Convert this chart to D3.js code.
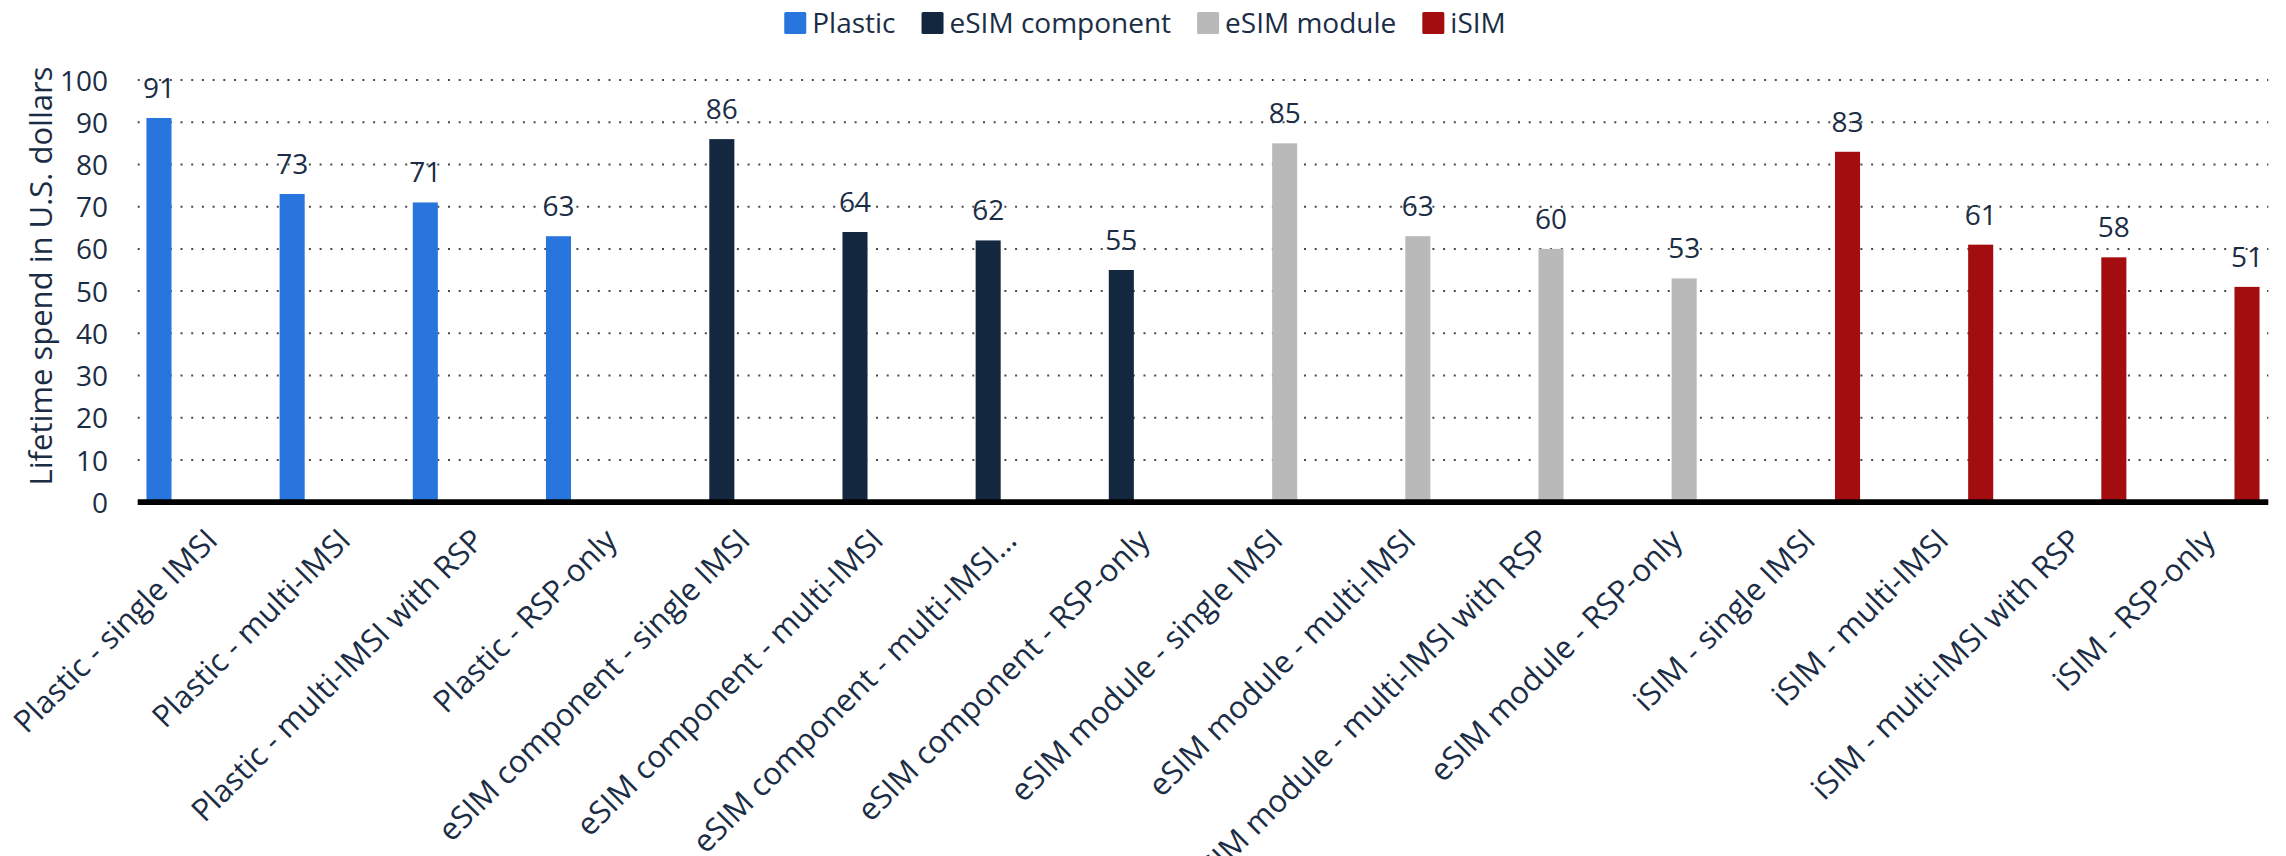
<!DOCTYPE html>
<html>
<head>
<meta charset="utf-8">
<script src="https://cdn.jsdelivr.net/npm/d3@7"></script>
<style>
  html, body { margin: 0; padding: 0; background: #fff; }
  svg { display: block; font-family: "Open Sans", "Noto Sans", sans-serif; }
</style>
</head>
<body>
<svg id="chart" width="2286" height="856"></svg>
<script>
// Categories along the x axis
const categories = [
  "Plastic - single IMSI", "Plastic - multi-IMSI", "Plastic - multi-IMSI with RSP", "Plastic - RSP-only",
  "eSIM component - single IMSI", "eSIM component - multi-IMSI", "eSIM component - multi-IMSI with RSP", "eSIM component - RSP-only",
  "eSIM module - single IMSI", "eSIM module - multi-IMSI", "eSIM module - multi-IMSI with RSP", "eSIM module - RSP-only",
  "iSIM - single IMSI", "iSIM - multi-IMSI", "iSIM - multi-IMSI with RSP", "iSIM - RSP-only"
];

// Series names and colours
const seriesNames = ["Plastic", "eSIM component", "eSIM module", "iSIM"];
const seriesColors = ["#2876dd", "#13283f", "#b9b9b9", "#a30d0f"];

// Lifetime spend in U.S. dollars per category (null where the series has no value)
const plasticValues   = [91, 73, 71, 63, null, null, null, null, null, null, null, null, null, null, null, null];
const eSimComponent   = [null, null, null, null, 86, 64, 62, 55, null, null, null, null, null, null, null, null];
const eSimModule      = [null, null, null, null, null, null, null, null, 85, 63, 60, 53, null, null, null, null];
const iSimValues      = [null, null, null, null, null, null, null, null, null, null, null, null, 83, 61, 58, 51];

// Y axis ticks
const yTicks = [0, 10, 20, 30, 40, 50, 60, 70, 80, 90, 100];

const seriesValues = [plasticValues, eSimComponent, eSimModule, iSimValues];
const textColor = "#1b2d45";
const fontSize = 28;
const labelFontSize = 31;

const svg = d3.select("#chart");
const plot = { left: 137.7, right: 2268.3, top: 80, bottom: 502.2 };

const x0 = d3.scaleBand().domain(categories).range([plot.left, plot.right]).padding(0);
const x1 = d3.scaleBand().domain(seriesNames).range([0, x0.bandwidth()])
  .paddingInner(0.17).paddingOuter(0.29);
const y = d3.scaleLinear().domain([0, 100]).range([plot.bottom, plot.top]);

// Dotted horizontal grid
svg.append("g")
  .selectAll("line")
  .data(yTicks.filter(d => d > 0))
  .join("line")
  .attr("x1", plot.left).attr("x2", plot.right)
  .attr("y1", d => y(d)).attr("y2", d => y(d))
  .attr("stroke", "#4a4a4a")
  .attr("stroke-width", 2)
  .attr("stroke-dasharray", "2,8.7");

// Y axis labels
const yAxis = d3.axisLeft(y).tickValues(yTicks).tickSize(0).tickPadding(29.7);
svg.append("g")
  .attr("transform", `translate(${plot.left},0)`)
  .call(yAxis)
  .call(g => g.select(".domain").remove())
  .call(g => g.selectAll("text")
    .attr("fill", textColor)
    .attr("font-size", fontSize)
    .attr("font-family", "'Open Sans', sans-serif")
    .attr("dy", "0.36em"));

// Y axis title
svg.append("text")
  .attr("transform", `translate(52,276) rotate(-90)`)
  .attr("text-anchor", "middle")
  .attr("fill", textColor)
  .attr("font-size", labelFontSize)
  .text("Lifetime spend in U.S. dollars");

// Flatten values into bar records
const bars = [];
seriesValues.forEach((vals, si) => {
  vals.forEach((v, ci) => {
    if (v !== null) bars.push({ category: categories[ci], series: seriesNames[si], value: v, color: seriesColors[si] });
  });
});

// Bars
svg.append("g")
  .selectAll("rect")
  .data(bars)
  .join("rect")
  .attr("x", d => x0(d.category) + x1(d.series))
  .attr("width", x1.bandwidth())
  .attr("y", d => y(d.value))
  .attr("height", d => y(0) - y(d.value))
  .attr("fill", d => d.color);

// Value labels
svg.append("g")
  .selectAll("text")
  .data(bars)
  .join("text")
  .attr("x", d => x0(d.category) + x1(d.series) + x1.bandwidth() / 2)
  .attr("y", d => y(d.value) - 20)
  .attr("text-anchor", "middle")
  .attr("fill", textColor)
  .attr("font-size", fontSize)
  .text(d => d.value);

// X axis baseline
svg.append("line")
  .attr("x1", plot.left).attr("x2", plot.right)
  .attr("y1", plot.bottom).attr("y2", plot.bottom)
  .attr("stroke", "#000")
  .attr("stroke-width", 5.7);

// Rotated category labels (very long names are shortened)
const shorten = s => s.length > 34 ? s.slice(0, 27) + "…" : s;
svg.append("g")
  .selectAll("text")
  .data(categories)
  .join("text")
  .attr("transform", d => `translate(${x0(d) + x0.bandwidth() / 2 + 15},${plot.bottom + 40}) rotate(-45)`)
  .attr("text-anchor", "end")
  .attr("fill", textColor)
  .attr("font-size", labelFontSize)
  .text(shorten);

// Legend, centred at the top
const legend = svg.append("g");
const items = legend.selectAll("g")
  .data(seriesNames)
  .join("g");
items.append("rect")
  .attr("width", 22).attr("height", 22)
  .attr("y", 12)
  .attr("rx", 1.5)
  .attr("fill", (d, i) => seriesColors[i]);
items.append("text")
  .attr("x", 28).attr("y", 33.3)
  .attr("fill", textColor)
  .attr("font-size", fontSize)
  .text(d => d);
let offset = 0;
items.each(function () {
  const w = this.querySelector("text").getComputedTextLength() + 28;
  d3.select(this).attr("transform", `translate(${offset},0)`);
  offset += w + 26;
});
const legendWidth = offset - 26;
legend.attr("transform", `translate(${1145 - legendWidth / 2},0)`);
</script>
</body>
</html>
